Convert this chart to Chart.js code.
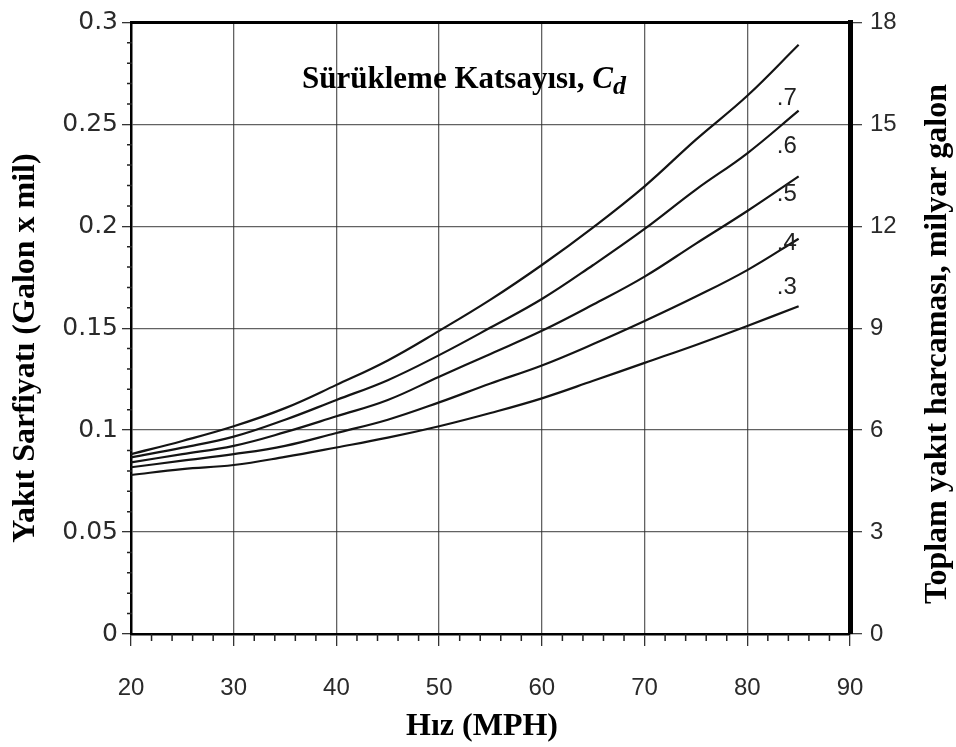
<!DOCTYPE html>
<html>
<head>
<meta charset="utf-8">
<script src="https://cdn.jsdelivr.net/npm/chart.js@4.4.1/dist/chart.umd.min.js"></script>
<style>
  body{margin:0;background:#fff}
  canvas{display:block}
</style>
</head>
<body>
<canvas id="yakit" width="956" height="747"></canvas>
<script>
// hız (MPH) ve her Cd için yakıt sarfiyatı (galon x mil)
const hiz  = [20, 25, 30, 35, 40, 45, 50, 55, 60, 65, 70, 75, 80, 85];
const cd07 = [0.0882, 0.0947, 0.1019, 0.1108, 0.1222, 0.1342, 0.1487, 0.1640, 0.1810, 0.1995, 0.2196, 0.2425, 0.2640, 0.2890];
const cd06 = [0.0866, 0.0914, 0.0968, 0.1051, 0.1148, 0.1245, 0.1368, 0.1503, 0.1643, 0.1810, 0.1987, 0.2180, 0.2358, 0.2567];
const cd05 = [0.0842, 0.0882, 0.0923, 0.0990, 0.1068, 0.1148, 0.1262, 0.1374, 0.1487, 0.1616, 0.1753, 0.1915, 0.2075, 0.2245];
const cd04 = [0.0818, 0.0850, 0.0882, 0.0923, 0.0986, 0.1051, 0.1136, 0.1229, 0.1317, 0.1422, 0.1535, 0.1655, 0.1785, 0.1939];
const cd03 = [0.0780, 0.0809, 0.0829, 0.0869, 0.0915, 0.0963, 0.1019, 0.1084, 0.1156, 0.1242, 0.1330, 0.1418, 0.1511, 0.1608];
const seriler = [cd07, cd06, cd05, cd04, cd03];
const cdEtiket = ['.7', '.6', '.5', '.4', '.3'];

const xEtiket   = ['20', '30', '40', '50', '60', '70', '80', '90'];
const solEtiket = ['0', '0.05', '0.1', '0.15', '0.2', '0.25', '0.3'];
const sagEtiket = ['0', '3', '6', '9', '12', '15', '18'];

const datasets = seriler.map((s, k) => ({
  label: cdEtiket[k],
  data: hiz.map((h, i) => ({x: h, y: s[i]})),
  borderColor: '#141414',
  borderWidth: 2.2,
  pointRadius: 0,
  fill: false,
  tension: 0.4
}));

const izgara = 'rgba(45,45,45,0.75)';

const yazilar = {
  id: 'yazilar',
  afterDraw(chart) {
    const {ctx, chartArea: a, scales: {x, y}} = chart;
    ctx.save();

    // ara tikler
    ctx.strokeStyle = '#222';
    ctx.lineWidth = 1.5;
    ctx.beginPath();
    for (let v = 22; v < 90; v += 2) {
      if (v % 10 === 0) continue;
      const px = x.getPixelForValue(v);
      ctx.moveTo(px, a.bottom); ctx.lineTo(px, a.bottom + 7);
    }
    for (let k = 1; k < 30; k++) {
      if (k % 5 === 0) continue;
      const py = y.getPixelForValue(k / 100);
      ctx.moveTo(a.left - 4, py); ctx.lineTo(a.left + 1, py);
    }
    ctx.stroke();

    // üst çerçeve
    ctx.strokeStyle = '#000';
    ctx.lineWidth = 3;
    ctx.beginPath();
    ctx.moveTo(a.left, a.top); ctx.lineTo(a.right, a.top);
    ctx.stroke();

    ctx.fillStyle = '#000';
    ctx.textAlign = 'center';
    ctx.textBaseline = 'middle';
    ctx.font = 'bold 32px "Liberation Serif"';

    ctx.save();
    ctx.translate(26, 348);
    ctx.rotate(-Math.PI / 2);
    ctx.fillText('Yakıt Sarfiyatı (Galon x mil)', 0, 0);
    ctx.restore();

    ctx.save();
    ctx.translate(938, 344);
    ctx.rotate(-Math.PI / 2);
    ctx.fillText('Toplam yakıt harcaması, milyar galon', 0, 0);
    ctx.restore();

    ctx.fillText('Hız (MPH)', 482, 727);

    // Cd başlığı
    ctx.textAlign = 'left';
    ctx.textBaseline = 'alphabetic';
    ctx.font = 'bold 31px "Liberation Serif"';
    const bas = 'Sürükleme Katsayısı, ';
    ctx.fillText(bas, 302, 88);
    let cx = 302 + ctx.measureText(bas).width;
    ctx.font = 'italic bold 31px "Liberation Serif"';
    ctx.fillText('C', cx, 88);
    cx += ctx.measureText('C').width;
    ctx.font = 'italic bold 26px "Liberation Serif"';
    ctx.fillText('d', cx, 94);

    // eğri etiketleri
    const etiketX = 83.85;
    const etiketY = [0.2625, 0.239, 0.2158, 0.1916, 0.1698];
    ctx.font = '24px "Liberation Sans"';
    ctx.fillStyle = '#222';
    ctx.textAlign = 'center';
    ctx.textBaseline = 'middle';
    cdEtiket.forEach((t, k) => {
      ctx.fillText(t, x.getPixelForValue(etiketX), y.getPixelForValue(etiketY[k]));
    });

    ctx.restore();
  }
};

new Chart(document.getElementById('yakit'), {
  type: 'line',
  data: {datasets: datasets},
  plugins: [yazilar],
  options: {
    responsive: false,
    animation: false,
    devicePixelRatio: 1,
    layout: {padding: {top: 14, left: 0, right: 0, bottom: 0}},
    plugins: {legend: {display: false}, tooltip: {enabled: false}},
    scales: {
      x: {
        type: 'linear',
        min: 20, max: 90,
        afterFit: (s) => { s.height = 113; },
        ticks: {
          stepSize: 10,
          padding: 28,
          color: '#2a2a2a',
          font: {family: '"Liberation Sans"', size: 24},
          maxRotation: 0,
          callback: (v, i) => xEtiket[i]
        },
        grid: {color: izgara, lineWidth: 1.3, tickLength: 12, tickColor: '#333'},
        border: {color: '#000', width: 2.5}
      },
      y: {
        position: 'left',
        min: 0, max: 0.3,
        afterFit: (s) => { s.width = 131; },
        ticks: {
          stepSize: 0.05,
          padding: 4,
          color: '#2a2a2a',
          font: {family: '"DejaVu Sans"', size: 25},
          callback: (v, i) => solEtiket[i]
        },
        grid: {color: izgara, lineWidth: 1.3, tickLength: 9, tickColor: '#333'},
        border: {color: '#000', width: 2.5}
      },
      y2: {
        position: 'right',
        min: 0, max: 18,
        afterFit: (s) => { s.width = 106; },
        ticks: {
          stepSize: 3,
          padding: 8,
          color: '#2a2a2a',
          font: {family: '"Liberation Sans"', size: 24},
          callback: (v, i) => sagEtiket[i]
        },
        grid: {drawOnChartArea: false, tickLength: 12, tickColor: '#444', lineWidth: 1.3},
        border: {color: '#000', width: 5}
      }
    }
  }
});
</script>
</body>
</html>
